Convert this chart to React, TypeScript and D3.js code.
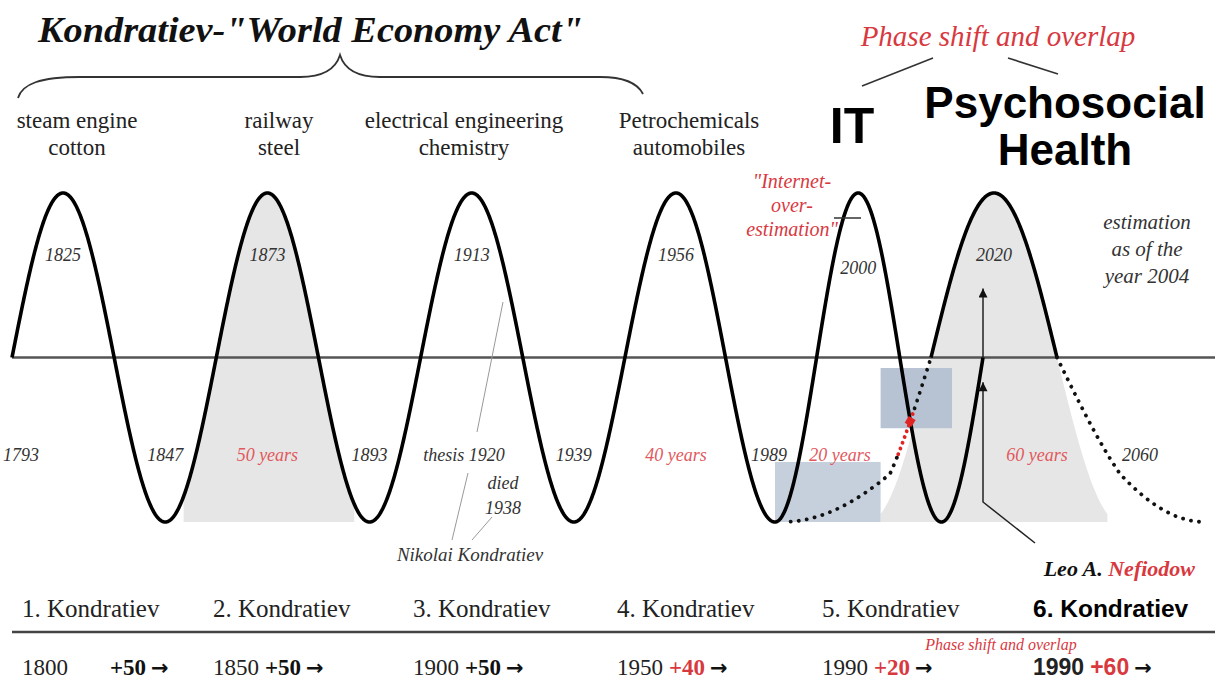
import React from "react";
import * as d3 from "d3";

// turning points of the long waves (trough, peak, trough, ...)
const turningYears = [1793, 1825, 1847, 1873, 1893, 1913, 1939, 1956, 1989, 2000];
const innovations = [
  ["steam engine", "cotton"],
  ["railway", "steel"],
  ["electrical engineering", "chemistry"],
  ["Petrochemicals", "automobiles"],
];
const waveNames = ["1. Kondratiev", "2. Kondratiev", "3. Kondratiev", "4. Kondratiev", "5. Kondratiev", "6. Kondratiev"];
const startYears = [1800, 1850, 1900, 1950, 1990, 1990];
const durations = [50, 50, 50, 40, 20, 60];
const spanYears = [50, 40, 20, 60];
const sixthPeak = 2020;
const sixthEnd = 2060;
const thesisYear = 1920;
const diedYear = 1938;
const estimateYear = 2004;

const W = 1215, H = 682;
const red = "#d8393f";
const lightRed = "#e2585c";
const serif = "'Liberation Serif', 'Times New Roman', serif";
const sans = "'Liberation Sans', Arial, sans-serif";

// half-cycle index -> px (index 0 = first peak)
const x = d3.scaleLinear().domain([-0.5, 6, 7, 9.5]).range([12, 676, 775, 983]);
// 6th wave phase -> px (0 = peak); outer parts stretched (dotted forecast)
const x6 = d3.scaleLinear().domain([-1, -0.75, -0.5, 0.5, 0.75, 1]).range([782, 890, 931, 1057, 1120, 1205]);
const x6core = d3.scaleLinear().domain([-0.5, 0.5]).range([931, 1057]);
const y = d3.scaleLinear().domain([-1, 1]).range([522, 193]);
const wave = (h: number) => Math.cos(Math.PI * h);

const mainLine = d3.line<number>().x((h) => x(h)).y((h) => y(wave(h)));
const sixLine = d3.line<number>().x((g) => x6(g)).y((g) => y(wave(g)));
const grayArea = d3.area<number>().x((h) => x(h)).y0(y(-1)).y1((h) => y(wave(h)));
const sixArea = d3.area<number>().x((g) => x6core(g)).y0(y(-1)).y1((g) => y(wave(g)));

const samples = (a: number, b: number) => d3.range(a, b, 0.005).concat([b]);

const hOf = (yr: number) => turningYears.indexOf(yr) - 1;

export default function App() {
  const peaks = turningYears.filter((_, i) => i % 2 === 1);
  const troughs = turningYears.filter((_, i) => i % 2 === 0 && i > 0);
  const colX = [22, 213, 413, 617, 822, 1033];
  const innovX = [77, 279, 464, 689];
  const arrowX = x(9.5);
  const redG = -0.627;

  return (
    <svg width={W} height={H} style={{ position: "absolute", left: 0, top: 0, background: "#fff" }}>
      <defs>
        <marker id="ah" viewBox="0 0 10 10" refX="10" refY="5" markerWidth="12" markerHeight="9" orient="auto" markerUnits="userSpaceOnUse">
          <path d="M0,0 L10,5 L0,10 Z" fill="#111" />
        </marker>
      </defs>

      {/* shaded waves */}
      <path d={grayArea(samples(1.18, 2.85)) || ""} fill="#e6e6e6" />
      <path d={sixArea(samples(-0.9, 0.9)) || ""} fill="#e6e6e6" />
      <rect x={x(7)} y={y(-0.635)} width={x6core(-0.9) - x(7)} height={y(-1) - y(-0.635)} fill="#c6d0dd" />
      <rect x={x6core(-0.9)} y={y(-0.064)} width={x6core(-0.333) - x6core(-0.9)} height={y(-0.43) - y(-0.064)} fill="#b7c3d3" />

      {/* axis lines */}
      <line x1={12} x2={W} y1={y(0)} y2={y(0)} stroke="#555" strokeWidth={2.5} />
      <line x1={12} x2={W} y1={632} y2={632} stroke="#444" strokeWidth={2.5} />

      {/* waves */}
      <path d={mainLine(samples(-0.5, 9.5)) || ""} fill="none" stroke="#000" strokeWidth={3.6} strokeLinejoin="round" />
      <path d={sixLine(samples(-0.5, 0.5)) || ""} fill="none" stroke="#000" strokeWidth={3.6} />
      <path d={sixLine(samples(-0.98, -0.7)) || ""} fill="none" stroke="#111" strokeWidth={3.8} strokeDasharray="0.1 8" strokeLinecap="round" />
      <path d={sixLine(samples(-0.7, -0.61)) || ""} fill="none" stroke="#e02424" strokeWidth={3.8} strokeDasharray="0.1 6" strokeLinecap="round" />
      <path d={sixLine(samples(-0.6, -0.5)) || ""} fill="none" stroke="#111" strokeWidth={3.8} strokeDasharray="0.1 8" strokeLinecap="round" />
      <path d={sixLine(samples(0.5, 0.99)) || ""} fill="none" stroke="#111" strokeWidth={3.8} strokeDasharray="0.1 8" strokeLinecap="round" />
      <rect x={x6(redG) - 4} y={y(wave(redG)) - 4} width={8} height={8} fill="#e02424" transform={`rotate(30 ${x6(redG)} ${y(wave(redG))})`} />

      {/* arrows */}
      <line x1={arrowX} x2={arrowX} y1={y(0)} y2={y(0.42)} stroke="#222" strokeWidth={1.5} markerEnd="url(#ah)" />
      <polyline points={`1035,543 ${arrowX},502 ${arrowX},${y(-0.15)}`} fill="none" stroke="#222" strokeWidth={1.5} markerEnd="url(#ah)" />

      {/* title and brace */}
      <text x={38} y={42} fontFamily={serif} fontWeight="bold" fontStyle="italic" fontSize={35} fill="#111" textLength={545} lengthAdjust="spacingAndGlyphs">
        Kondratiev-"World Economy Act"
      </text>
      <path d="M18,98 C22,84 40,77 80,77 L300,77 C325,77 336,68 340,55 C344,68 355,77 380,77 L600,77 C625,77 638,84 643,94" fill="none" stroke="#333" strokeWidth={1.8} />

      {/* Phase shift header */}
      <text x={998} y={46} textAnchor="middle" fontFamily={serif} fontStyle="italic" fontSize={29} fill={red}>Phase shift and overlap</text>
      <line x1={862} y1={86} x2={933} y2={58} stroke="#333" strokeWidth={1.6} />
      <line x1={1008} y1={58} x2={1058} y2={74} stroke="#333" strokeWidth={1.6} />
      <text x={852} y={143} textAnchor="middle" fontFamily={sans} fontWeight="bold" fontSize={50} fill="#000">IT</text>
      <text x={1065} y={118} textAnchor="middle" fontFamily={sans} fontWeight="bold" fontSize={44} fill="#000">Psychosocial</text>
      <text x={1065} y={165} textAnchor="middle" fontFamily={sans} fontWeight="bold" fontSize={44} fill="#000">Health</text>

      {/* innovations */}
      {innovations.map((pair, i) => (
        <g key={i} fontFamily={serif} fontSize={23} fill="#222" textAnchor="middle">
          <text x={innovX[i]} y={128}>{pair[0]}</text>
          <text x={innovX[i]} y={155}>{pair[1]}</text>
        </g>
      ))}

      {/* internet over-estimation */}
      <g fontFamily={serif} fontStyle="italic" fontSize={20} fill={red} textAnchor="middle">
        <text x={792} y={188}>"Internet-</text>
        <text x={792} y={212}>over-</text>
        <text x={792} y={236}>estimation"</text>
      </g>
      <line x1={834} x2={861} y1={218} y2={218} stroke="#333" strokeWidth={1.5} />

      <g fontFamily={serif} fontStyle="italic" fontSize={21} fill="#333" textAnchor="middle">
        <text x={1147} y={229}>estimation</text>
        <text x={1147} y={256}>as of the</text>
        <text x={1147} y={283}>year {estimateYear}</text>
      </g>

      {/* peak and trough years */}
      <g fontFamily={serif} fontStyle="italic" fontSize={18} fill="#333" textAnchor="middle">
        {peaks.map((yr) => (
          <text key={yr} x={x(hOf(yr))} y={yr === 2000 ? 274 : 261}>{yr}</text>
        ))}
        <text x={x6(0)} y={261}>{sixthPeak}</text>
        <text x={39} y={461} textAnchor="end">{turningYears[0]}</text>
        {troughs.map((yr) => (
          <text key={yr} x={x(hOf(yr)) - (yr === 1989 ? 6 : 0)} y={461}>{yr}</text>
        ))}
        <text x={1140} y={461}>{sixthEnd}</text>
        <text x={464} y={461}>thesis {thesisYear}</text>
        <text x={503} y={489}>died</text>
        <text x={503} y={514}>{diedYear}</text>
        <text x={470} y={561} fontSize={19}>Nikolai Kondratiev</text>
      </g>
      <g stroke="#999" strokeWidth={1}>
        <line x1={452} y1={540} x2={468} y2={473} />
        <line x1={477} y1={432} x2={503} y2={302} />
        <line x1={472} y1={540} x2={492} y2={517} />
      </g>

      {/* span lengths */}
      <g fontFamily={serif} fontStyle="italic" fontSize={18} fill={lightRed} textAnchor="middle">
        <text x={x(2)} y={461}>{spanYears[0]} years</text>
        <text x={x(6)} y={461}>{spanYears[1]} years</text>
        <text x={840} y={461}>{spanYears[2]} years</text>
        <text x={1037} y={461}>{spanYears[3]} years</text>
      </g>

      <text x={1195} y={576} textAnchor="end" fontFamily={serif} fontStyle="italic" fontWeight="bold" fontSize={22} fill="#111">
        Leo A. <tspan fill={red}>Nefiodow</tspan>
      </text>

      {/* bottom table */}
      {waveNames.map((n, i) => (
        <text key={n} x={colX[i]} y={617} fontFamily={i === 5 ? sans : serif} fontWeight={i === 5 ? "bold" : "normal"} fontSize={i === 5 ? 24.5 : 25} fill={i === 5 ? "#000" : "#222"}>{n}</text>
      ))}
      <text x={1001} y={650} textAnchor="middle" fontFamily={serif} fontStyle="italic" fontSize={16} fill={red}>Phase shift and overlap</text>
      {startYears.map((yr, i) => {
        const last = i === 5;
        const hot = durations[i] !== 50;
        return (
          <text key={i} x={colX[i]} y={675} fontFamily={last ? sans : serif} fontSize={23} fontWeight={last ? "bold" : "normal"} fill="#222">
            {yr}
            <tspan dx={i === 0 ? 42 : 6} fontWeight="bold" fill={hot ? red : "#111"}>+{durations[i]}</tspan>
            <tspan dx={5} fontFamily="'DejaVu Sans', sans-serif" fontWeight="bold" fontSize={21} fill="#111">→</tspan>
          </text>
        );
      })}
    </svg>
  );
}
